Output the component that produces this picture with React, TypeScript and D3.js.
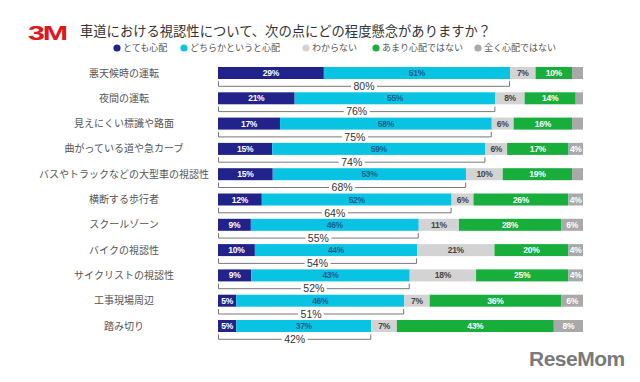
import React from "react";
import * as d3 from "d3";

const categories = [
  "悪天候時の運転",
  "夜間の運転",
  "見えにくい標識や路面",
  "曲がっている道や急カーブ",
  "バスやトラックなどの大型車の視認性",
  "横断する歩行者",
  "スクールゾーン",
  "バイクの視認性",
  "サイクリストの視認性",
  "工事現場周辺",
  "踏み切り",
];
const veryConcerned = [29, 21, 17, 15, 15, 12, 9, 10, 9, 5, 5];
const somewhatConcerned = [51, 55, 58, 59, 53, 52, 46, 44, 43, 46, 37];
const unsure = [7, 8, 6, 6, 10, 6, 11, 21, 18, 7, 7];
const notVery = [10, 14, 16, 17, 19, 26, 28, 20, 25, 36, 43];
const notAtAll = [3, 2, 3, 4, 3, 4, 6, 4, 4, 6, 8];
const concernedTotal = [80, 76, 75, 74, 68, 64, 55, 54, 52, 51, 42];
const seriesNames = ["とても心配", "どちらかというと心配", "わからない", "あまり心配ではない", "全く心配ではない"];
const title = "車道における視認性について、次の点にどの程度懸念がありますか？";

const colors = ["#22238a", "#08c4e2", "#d3d3d3", "#17ae3c", "#a9a9a9"];
const labelColors = ["#ffffff", "#1a5d8c", "#444444", "#ffffff", "#ffffff"];
const FONT = "'Noto Sans CJK JP', 'Noto Sans', sans-serif";
const NUMFONT = "'Liberation Sans', Arial, sans-serif";

export default function App() {
  const series = [veryConcerned, somewhatConcerned, unsure, notVery, notAtAll];
  const x0 = 218;
  const x1 = 583;
  const y = d3.scaleBand<string>().domain(categories).range([67, 67 + 11 * 25.3]).paddingInner(0);
  const barH = 12;
  const legendX = [117, 184, 306, 376, 478];

  return (
    <svg width={640} height={382} style={{ position: "absolute", left: 0, top: 0, background: "#fff" }} fontFamily={FONT}>
      <text x={0} y={0} fontFamily={NUMFONT} fontWeight={900} fontSize={21} fill="#e1151d" letterSpacing={-1.5} transform="translate(28,40) scale(1.45,1)">3M</text>
      <text x={80} y={36} fontSize={13.3} fill="#333">{title}</text>
      {seriesNames.map((n, i) => (
        <g key={n}>
          <circle cx={legendX[i]} cy={48} r={3.6} fill={colors[i]} />
          <text x={legendX[i] + 6} y={51} fontSize={9} fill="#555">{n}</text>
        </g>
      ))}
      {categories.map((c, r) => {
        const vals = series.map((s) => s[r]);
        const total = d3.sum(vals);
        const xs = d3.scaleLinear().domain([0, total]).range([x0, x1]);
        const cum = d3.cumsum(vals);
        const top = y(c)!;
        const bx = xs(vals[0] + vals[1]);
        const by = top + barH + 7.3;
        const mid = (x0 + bx) / 2;
        return (
          <g key={c}>
            <text x={124} y={top + barH / 2} dy="0.35em" textAnchor="middle" fontSize={10} fill="#555">{c}</text>
            {vals.map((v, i) => {
              const a = xs(cum[i] - v);
              const b = xs(cum[i]);
              return (
                <g key={i}>
                  <rect x={a} y={top} width={b - a} height={barH} fill={colors[i]} />
                  {v >= 4 && (
                    <text x={(a + b) / 2} y={top + barH / 2} dy="0.36em" textAnchor="middle" fontSize={8.5} fontWeight={700} fontFamily={NUMFONT} letterSpacing={-0.3} fill={labelColors[i]}>{v}%</text>
                  )}
                </g>
              );
            })}
            <path d={`M${x0 + 0.5},${by - 5}V${by}H${mid - 13}M${mid + 13},${by}H${bx - 0.5}V${by - 5}`} fill="none" stroke="#555" strokeWidth={0.8} />
            <text x={mid} y={by} dy="0.36em" textAnchor="middle" fontSize={10.5} fontWeight={400} fontFamily={NUMFONT} fill="#333">{concernedTotal[r]}%</text>
          </g>
        );
      })}
      <text x={529} y={366} fontSize={21} fontWeight={900} fill="#7a7a7a" fontFamily={NUMFONT} letterSpacing={-0.5}>ReseMom</text>
    </svg>
  );
}
